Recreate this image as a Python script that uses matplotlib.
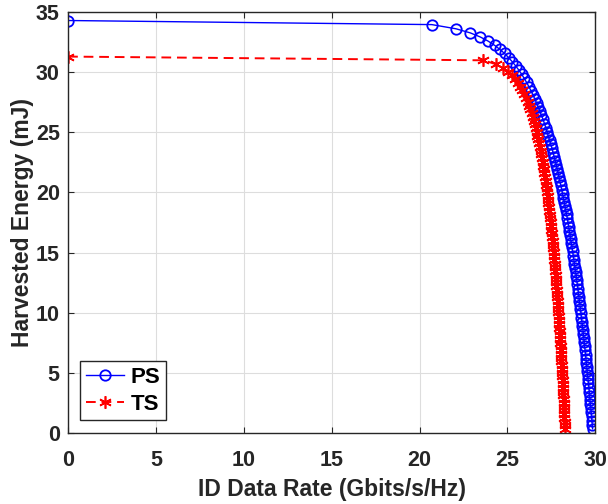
import matplotlib
matplotlib.use("Agg")
import matplotlib.pyplot as plt

# PS: power splitting trade-off, one marker per splitting ratio step
ps_rate = [0.00, 20.70, 22.08, 22.89, 23.46, 23.90, 24.27, 24.57, 24.84, 25.07,
           25.28, 25.47, 25.65, 25.81, 25.95, 26.09, 26.22, 26.34, 26.45, 26.56,
           26.66, 26.76, 26.85, 26.94, 27.03, 27.11, 27.19, 27.26, 27.33, 27.40,
           27.47, 27.54, 27.60, 27.66, 27.72, 27.78, 27.83, 27.89, 27.94, 27.99,
           28.04, 28.09, 28.14, 28.19, 28.23, 28.28, 28.32, 28.37, 28.41, 28.45,
           28.49, 28.53, 28.57, 28.60, 28.64, 28.68, 28.71, 28.75, 28.78, 28.82,
           28.85, 28.89, 28.92, 28.95, 28.98, 29.01, 29.04, 29.07, 29.10, 29.13,
           29.16, 29.19, 29.21, 29.24, 29.27, 29.30, 29.32, 29.35, 29.37, 29.40,
           29.42, 29.45, 29.47, 29.50, 29.52, 29.54, 29.57, 29.59, 29.61, 29.64,
           29.66, 29.68, 29.70, 29.72, 29.75, 29.77, 29.79, 29.81, 29.83, 29.85]
ps_energy = [34.30, 33.96, 33.61, 33.27, 32.93, 32.59, 32.24, 31.90, 31.56, 31.21,
             30.87, 30.53, 30.18, 29.84, 29.50, 29.16, 28.81, 28.47, 28.13, 27.78,
             27.44, 27.10, 26.75, 26.41, 26.07, 25.73, 25.38, 25.04, 24.70, 24.35,
             24.01, 23.67, 23.32, 22.98, 22.64, 22.30, 21.95, 21.61, 21.27, 20.92,
             20.58, 20.24, 19.89, 19.55, 19.21, 18.87, 18.52, 18.18, 17.84, 17.49,
             17.15, 16.81, 16.46, 16.12, 15.78, 15.44, 15.09, 14.75, 14.41, 14.06,
             13.72, 13.38, 13.03, 12.69, 12.35, 12.01, 11.66, 11.32, 10.98, 10.63,
             10.29, 9.95, 9.60, 9.26, 8.92, 8.58, 8.23, 7.89, 7.55, 7.20,
             6.86, 6.52, 6.17, 5.83, 5.49, 5.15, 4.80, 4.46, 4.12, 3.77,
             3.43, 3.09, 2.74, 2.40, 2.06, 1.72, 1.37, 1.03, 0.69, 0.34]

# TS: time switching trade-off
ts_rate = [0.00, 23.64, 24.34, 24.75, 25.04, 25.27, 25.45, 25.61, 25.74, 25.86,
           25.97, 26.06, 26.15, 26.23, 26.31, 26.38, 26.44, 26.50, 26.56, 26.61,
           26.67, 26.71, 26.76, 26.81, 26.85, 26.89, 26.93, 26.97, 27.01, 27.04,
           27.08, 27.11, 27.14, 27.17, 27.20, 27.23, 27.26, 27.29, 27.31, 27.34,
           27.37, 27.39, 27.41, 27.44, 27.46, 27.48, 27.51, 27.53, 27.55, 27.57,
           27.59, 27.61, 27.63, 27.65, 27.67, 27.69, 27.70, 27.72, 27.74, 27.76,
           27.77, 27.79, 27.81, 27.82, 27.84, 27.86, 27.87, 27.89, 27.90, 27.92,
           27.93, 27.95, 27.96, 27.97, 27.99, 28.00, 28.01, 28.03, 28.04, 28.05,
           28.07, 28.08, 28.09, 28.10, 28.11, 28.13, 28.14, 28.15, 28.16, 28.17,
           28.18, 28.20, 28.21, 28.22, 28.23, 28.24, 28.25, 28.26, 28.27, 28.28]
ts_energy = [31.30, 30.99, 30.67, 30.36, 30.05, 29.74, 29.42, 29.11, 28.80, 28.48,
             28.17, 27.86, 27.54, 27.23, 26.92, 26.61, 26.29, 25.98, 25.67, 25.35,
             25.04, 24.73, 24.41, 24.10, 23.79, 23.48, 23.16, 22.85, 22.54, 22.22,
             21.91, 21.60, 21.28, 20.97, 20.66, 20.35, 20.03, 19.72, 19.41, 19.09,
             18.78, 18.47, 18.15, 17.84, 17.53, 17.22, 16.90, 16.59, 16.28, 15.96,
             15.65, 15.34, 15.02, 14.71, 14.40, 14.09, 13.77, 13.46, 13.15, 12.83,
             12.52, 12.21, 11.89, 11.58, 11.27, 10.96, 10.64, 10.33, 10.02, 9.70,
             9.39, 9.08, 8.76, 8.45, 8.14, 7.83, 7.51, 7.20, 6.89, 6.57,
             6.26, 5.95, 5.63, 5.32, 5.01, 4.70, 4.38, 4.07, 3.76, 3.44,
             3.13, 2.82, 2.50, 2.19, 1.88, 1.57, 1.25, 0.94, 0.63, 0.31]

x_ticks = [0, 5, 10, 15, 20, 25, 30]
y_ticks = [0, 5, 10, 15, 20, 25, 30, 35]

plt.rcParams['font.family'] = ['Liberation Sans', 'DejaVu Sans']
plt.rcParams['font.weight'] = 'bold'

fig = plt.figure(figsize=(6.08, 5.04), dpi=100)
ax = fig.add_axes([0.112, 0.141, 0.867, 0.835])

# MATLAB style asterisk marker: six spokes
asterisk = (6, 2, 0)

ax.plot(ps_rate, ps_energy, color='#0000FF', linestyle='-', linewidth=1.0,
        marker='o', markersize=7.5, markerfacecolor='none',
        markeredgewidth=1.3, label='PS')
ax.plot(ts_rate, ts_energy, color='#FF0000', linestyle=(0, (5, 3)),
        linewidth=1.4, marker=asterisk, markersize=9, markeredgewidth=1.2,
        label='TS')

ax.set_xlim(0, 30)
ax.set_ylim(0, 35)
ax.set_xticks(x_ticks)
ax.set_yticks(y_ticks)
ax.grid(True, color='#DDDDDD', linewidth=0.8)
ax.set_axisbelow(True)

ax.tick_params(direction='in', top=True, right=True, labelsize=15.5,
               colors='#262626', length=4)
ax.tick_params(axis='x', pad=12)
ax.tick_params(axis='y', pad=6)
for s in ax.spines.values():
    s.set_color('#262626')
    s.set_linewidth(1.0)

ax.set_xlabel('ID Data Rate (Gbits/s/Hz)', fontsize=16.5, fontweight='bold',
              color='#262626', labelpad=5)
ax.set_ylabel('Harvested Energy (mJ)', fontsize=16.5, fontweight='bold',
              color='#262626', labelpad=1)

leg = ax.legend(loc='lower left', bbox_to_anchor=(0.015, 0.02), fontsize=16,
                fancybox=False, framealpha=1, edgecolor='#262626',
                handlelength=1.7, borderpad=0.25, labelspacing=0.25,
                handletextpad=0.3, borderaxespad=0.2)
leg.get_frame().set_linewidth(1.0)

fig.savefig('out.png', dpi=100)
